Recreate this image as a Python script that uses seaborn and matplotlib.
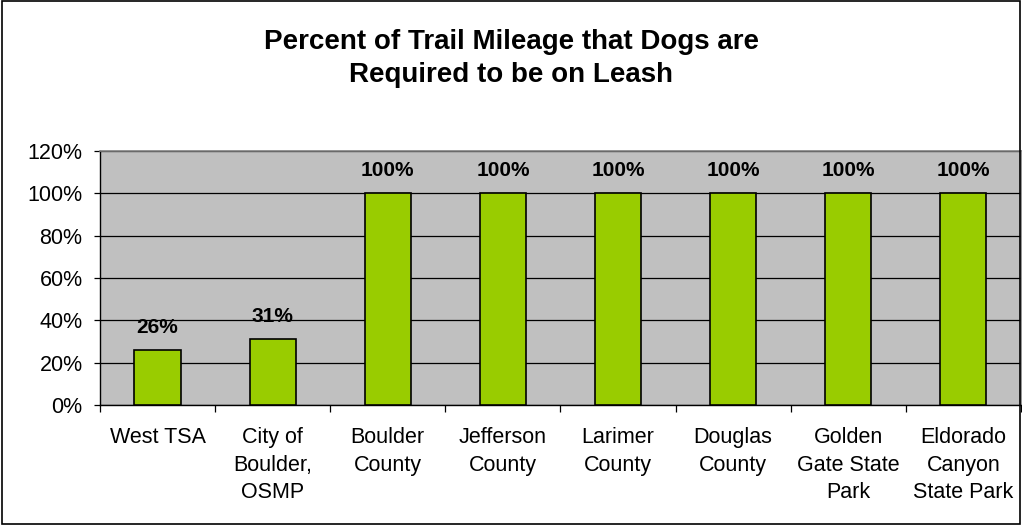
import matplotlib
matplotlib.use("Agg")
import matplotlib.pyplot as plt
import seaborn as sns
import pandas as pd
from matplotlib.ticker import FixedLocator, PercentFormatter
from matplotlib.patches import Rectangle

agencies = ["West TSA", "City of\nBoulder,\nOSMP", "Boulder\nCounty", "Jefferson\nCounty",
            "Larimer\nCounty", "Douglas\nCounty", "Golden\nGate State\nPark",
            "Eldorado\nCanyon\nState Park"]
leash_pct = [26, 31, 100, 100, 100, 100, 100, 100]

df = pd.DataFrame({"agency": agencies, "pct": leash_pct})

sns.set_theme(style="white")
plt.rcParams["font.family"] = ["Liberation Sans", "DejaVu Sans"]
plt.rcParams["text.color"] = "black"

fig = plt.figure(figsize=(10.22, 5.25), dpi=100)
ax = fig.add_axes([0.0978, 0.2286, 0.9012, 0.4838])
ax.set_facecolor("#C0C0C0")

sns.barplot(data=df, x="agency", y="pct", color="#99CC00", width=0.4,
            edgecolor="black", linewidth=1.2, saturation=1, ax=ax, zorder=3)

for i, v in enumerate(leash_pct):
    ax.text(i, v + 10.8, f"{v}%", ha="center", va="center", fontsize=15,
            fontweight="bold", color="black")

ax.set_ylim(0, 120)
ax.set_xlim(-0.5, len(agencies) - 0.5)
ax.set_yticks(range(0, 121, 20))
ax.yaxis.set_major_formatter(PercentFormatter(decimals=0))
ax.grid(axis="y", color="black", linewidth=0.9, zorder=1)
ax.set_axisbelow(True)
ax.set_xlabel("")
ax.set_ylabel("")

ax.tick_params(axis="x", which="major", length=0, labelsize=15.5, pad=16, colors="black")
for lbl in ax.get_xticklabels():
    lbl.set_linespacing(1.4)
ax.xaxis.set_minor_locator(FixedLocator([i - 0.5 for i in range(len(agencies) + 1)]))
ax.tick_params(axis="x", which="minor", length=5, width=0.9, color="black", bottom=True)
ax.tick_params(axis="y", length=4.5, width=0.9, color="black", labelsize=15.5, pad=8,
               left=True, labelcolor="black")

for side in ["top", "right"]:
    ax.spines[side].set_color("#808080")
    ax.spines[side].set_linewidth(1.2)
for side in ["left", "bottom"]:
    ax.spines[side].set_color("black")
    ax.spines[side].set_linewidth(1.0)

fig.text(0.5, 0.889, "Percent of Trail Mileage that Dogs are\nRequired to be on Leash",
         ha="center", va="center", fontsize=20, fontweight="bold", linespacing=1.35,
         color="black")

fig.patches.append(Rectangle((0.002, 0.002), 0.996, 0.996, transform=fig.transFigure,
                             fill=False, edgecolor="black", linewidth=1.2))

fig.savefig("out.png", dpi=100)
